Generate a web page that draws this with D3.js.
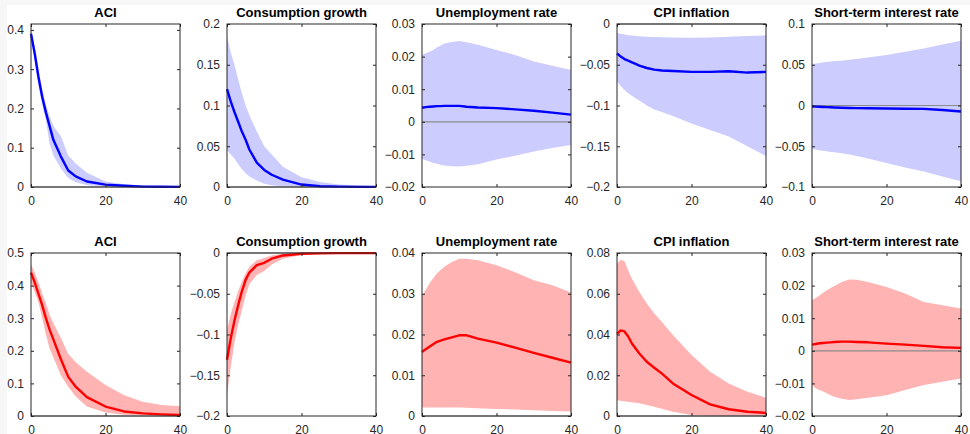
<!DOCTYPE html>
<html>
<head>
<meta charset="utf-8">
<script src="https://cdn.jsdelivr.net/npm/d3@7"></script>
<style>
  html, body { margin: 0; padding: 0; background: #f7f7f7; }
  svg { display: block; }
  .tick text { font-family: "Liberation Sans", Arial, sans-serif; font-size: 12px; fill: #262626; }
  .title { font-family: "Liberation Sans", Arial, sans-serif; font-size: 13px; font-weight: bold; fill: #000; }
</style>
</head>
<body>
<div id="chart"></div>
<script>
var horizons = [0, 1, 2, 3, 4, 5, 6, 8, 10, 12, 15, 20, 25, 30, 35, 40];
var titles = ["ACI", "Consumption growth", "Unemployment rate", "CPI inflation", "Short-term interest rate"];

// row 1 (blue)
var aci_b_mid = [0.39, 0.34, 0.28, 0.23, 0.19, 0.155, 0.12, 0.078, 0.042, 0.027, 0.014, 0.006, 0.003, 0.001, 0.0005, 0.0003];
var aci_b_hi  = [0.40, 0.355, 0.30, 0.25, 0.21, 0.18, 0.155, 0.13, 0.08, 0.06, 0.036, 0.014, 0.007, 0.004, 0.002, 0.001];
var aci_b_lo  = [0.38, 0.32, 0.26, 0.21, 0.17, 0.11, 0.08, 0.048, 0.023, 0.012, 0.005, 0.001, 0, 0, 0, 0];

var cons_b_mid = [0.12, 0.105, 0.092, 0.08, 0.068, 0.058, 0.046, 0.03, 0.021, 0.015, 0.009, 0.003, 0.001, 0.0005, 0.0002, 0.0001];
var cons_b_hi  = [0.185, 0.165, 0.15, 0.132, 0.115, 0.1, 0.088, 0.068, 0.05, 0.04, 0.025, 0.012, 0.006, 0.003, 0.002, 0.001];
var cons_b_lo  = [0.045, 0.04, 0.035, 0.028, 0.022, 0.017, 0.013, 0.008, 0.004, 0.002, 0.001, 0, 0, 0, 0, 0];

var unemp_b_mid = [0.0043, 0.0045, 0.0046, 0.0047, 0.0048, 0.0048, 0.0049, 0.0049, 0.0049, 0.0046, 0.0044, 0.0042, 0.0038, 0.0034, 0.0028, 0.0022];
var unemp_b_hi  = [0.0205, 0.021, 0.0215, 0.022, 0.0228, 0.0234, 0.024, 0.0245, 0.0248, 0.0244, 0.0236, 0.022, 0.0205, 0.0185, 0.0172, 0.0159];
var unemp_b_lo  = [-0.0114, -0.0118, -0.0122, -0.0126, -0.0129, -0.0132, -0.0134, -0.0136, -0.0137, -0.0135, -0.013, -0.0116, -0.0104, -0.0091, -0.008, -0.0071];

var cpi_b_mid = [-0.036, -0.04, -0.043, -0.045, -0.047, -0.049, -0.051, -0.054, -0.056, -0.057, -0.0576, -0.0588, -0.0588, -0.058, -0.0596, -0.0588];
var cpi_b_hi  = [-0.0106, -0.012, -0.013, -0.0137, -0.0142, -0.0147, -0.015, -0.0156, -0.016, -0.0163, -0.0166, -0.017, -0.0165, -0.0155, -0.0148, -0.014];
var cpi_b_lo  = [-0.0706, -0.076, -0.081, -0.085, -0.088, -0.091, -0.094, -0.1, -0.105, -0.108, -0.113, -0.122, -0.13, -0.138, -0.15, -0.162];

var rate_b_mid = [-0.0012, -0.0014, -0.0016, -0.0018, -0.002, -0.0022, -0.0024, -0.0027, -0.003, -0.0032, -0.0034, -0.0037, -0.0039, -0.0042, -0.0055, -0.0073];
var rate_b_hi  = [0.051, 0.0515, 0.052, 0.053, 0.0535, 0.054, 0.0545, 0.055, 0.056, 0.057, 0.059, 0.062, 0.066, 0.07, 0.075, 0.0796];
var rate_b_lo  = [-0.0535, -0.054, -0.055, -0.0555, -0.056, -0.057, -0.0575, -0.0585, -0.06, -0.062, -0.065, -0.0706, -0.076, -0.081, -0.087, -0.093];

// row 2 (red)
var aci_r_mid = [0.44, 0.41, 0.375, 0.34, 0.30, 0.265, 0.235, 0.175, 0.12, 0.09, 0.058, 0.029, 0.014, 0.008, 0.005, 0.003];
var aci_r_hi  = [0.465, 0.44, 0.41, 0.375, 0.345, 0.31, 0.285, 0.24, 0.19, 0.165, 0.136, 0.095, 0.064, 0.044, 0.034, 0.03];
var aci_r_lo  = [0.41, 0.38, 0.35, 0.30, 0.25, 0.207, 0.18, 0.125, 0.09, 0.06, 0.029, 0.011, 0.004, 0.002, 0.0015, 0.001];

var cons_r_mid = [-0.131, -0.105, -0.083, -0.064, -0.047, -0.033, -0.024, -0.015, -0.012, -0.007, -0.003, -0.001, -0.0004, -0.0002, -0.0001, -0.0001];
var cons_r_hi  = [-0.095, -0.075, -0.06, -0.047, -0.035, -0.025, -0.017, -0.009, -0.006, -0.003, -0.001, 0, 0, 0, 0, 0];
var cons_r_lo  = [-0.175, -0.14, -0.11, -0.088, -0.07, -0.052, -0.038, -0.027, -0.022, -0.014, -0.007, -0.002, -0.0008, -0.0003, -0.0002, -0.0001];

var unemp_r_mid = [0.0157, 0.0164, 0.017, 0.0176, 0.0182, 0.0185, 0.0188, 0.0193, 0.0198, 0.0198, 0.019, 0.018, 0.0168, 0.0155, 0.0143, 0.0131];
var unemp_r_hi  = [0.0296, 0.031, 0.0325, 0.0338, 0.035, 0.0358, 0.0366, 0.0378, 0.0386, 0.0386, 0.0382, 0.037, 0.0353, 0.0333, 0.0321, 0.0303];
var unemp_r_lo  = [0.0021, 0.0021, 0.0021, 0.0021, 0.0021, 0.0021, 0.0021, 0.0021, 0.0021, 0.002, 0.0019, 0.0017, 0.0016, 0.0014, 0.0012, 0.0011];

var cpi_r_mid = [0.0403, 0.042, 0.0415, 0.039, 0.0356, 0.0331, 0.0307, 0.0266, 0.0237, 0.0209, 0.016, 0.0103, 0.0057, 0.0033, 0.0021, 0.0015];
var cpi_r_hi  = [0.0748, 0.0767, 0.076, 0.0715, 0.0674, 0.0642, 0.0609, 0.0552, 0.0503, 0.0462, 0.0397, 0.0299, 0.0217, 0.016, 0.0119, 0.009];
var cpi_r_lo  = [0.0077, 0.0075, 0.0073, 0.007, 0.0068, 0.0065, 0.0062, 0.0054, 0.0046, 0.0036, 0.0021, 0.0005, 0, 0, 0, 0];

var rate_r_mid = [0.0019, 0.0021, 0.0023, 0.0024, 0.0025, 0.0026, 0.0027, 0.0028, 0.0028, 0.0027, 0.0026, 0.0022, 0.0019, 0.0015, 0.0011, 0.0009];
var rate_r_hi  = [0.0155, 0.0162, 0.017, 0.0178, 0.0186, 0.0193, 0.0199, 0.0211, 0.0219, 0.0218, 0.0211, 0.0196, 0.0176, 0.015, 0.014, 0.013];
var rate_r_lo  = [-0.0105, -0.0115, -0.012, -0.0125, -0.013, -0.0136, -0.0141, -0.0147, -0.0151, -0.0149, -0.0144, -0.0136, -0.012, -0.0105, -0.0095, -0.0085];

// y limits and ticks per panel
var y_domains = [
  [0, 0.415], [0, 0.2], [-0.02, 0.03], [-0.2, 0], [-0.1, 0.1],
  [0, 0.5], [-0.2, 0], [0, 0.04], [0, 0.08], [-0.02, 0.03]
];
var y_ticks = [
  [0, 0.1, 0.2, 0.3, 0.4], [0, 0.05, 0.1, 0.15, 0.2], [-0.02, -0.01, 0, 0.01, 0.02, 0.03], [-0.2, -0.15, -0.1, -0.05, 0], [-0.1, -0.05, 0, 0.05, 0.1],
  [0, 0.1, 0.2, 0.3, 0.4, 0.5], [-0.2, -0.15, -0.1, -0.05, 0], [0, 0.01, 0.02, 0.03, 0.04], [0, 0.02, 0.04, 0.06, 0.08], [-0.02, -0.01, 0, 0.01, 0.02, 0.03]
];
var x_ticks = [0, 20, 40];

var panels = [
  [aci_b_lo, aci_b_mid, aci_b_hi], [cons_b_lo, cons_b_mid, cons_b_hi], [unemp_b_lo, unemp_b_mid, unemp_b_hi], [cpi_b_lo, cpi_b_mid, cpi_b_hi], [rate_b_lo, rate_b_mid, rate_b_hi],
  [aci_r_lo, aci_r_mid, aci_r_hi], [cons_r_lo, cons_r_mid, cons_r_hi], [unemp_r_lo, unemp_r_mid, unemp_r_hi], [cpi_r_lo, cpi_r_mid, cpi_r_hi], [rate_r_lo, rate_r_mid, rate_r_hi]
];

var width = 970, height = 434;
var col_left = [31, 227, 422, 617, 812];
var row_top = [24, 253];
var box_w = 149, box_h = 163;
var row_colors = [
  {band: "#ccccff", line: "#0000ff"},
  {band: "#ffb3b3", line: "#ff0000"}
];

var svg = d3.select("#chart").append("svg")
  .attr("width", width)
  .attr("height", height);

svg.append("rect")
  .attr("x", 7).attr("y", 5)
  .attr("width", width - 7).attr("height", height - 5)
  .attr("fill", "#ffffff");

var x = d3.scaleLinear().domain([0, 40]).range([0, box_w]);

panels.forEach(function (p, k) {
  var row = Math.floor(k / 5), col = k % 5;
  var colors = row_colors[row];
  var y = d3.scaleLinear().domain(y_domains[k]).range([box_h, 0]);

  var g = svg.append("g")
    .attr("transform", "translate(" + col_left[col] + "," + row_top[row] + ")");

  var band = d3.area()
    .x(function (d, i) { return x(horizons[i]); })
    .y0(function (d, i) { return y(p[0][i]); })
    .y1(function (d, i) { return y(p[2][i]); });

  var line = d3.line()
    .x(function (d, i) { return x(horizons[i]); })
    .y(function (d) { return y(d); });

  g.append("path")
    .datum(horizons)
    .attr("d", band)
    .attr("fill", colors.band);

  // zero line
  g.append("line")
    .attr("x1", 0).attr("x2", box_w)
    .attr("y1", y(0)).attr("y2", y(0))
    .attr("stroke", "#8c8c8c")
    .attr("stroke-width", 1.2);

  g.append("path")
    .datum(p[1])
    .attr("d", line)
    .attr("fill", "none")
    .attr("stroke", colors.line)
    .attr("stroke-width", 2.4)
    .attr("stroke-linejoin", "round");

  // axes, ticks inside like matlab
  g.append("g")
    .call(d3.axisLeft(y).tickValues(y_ticks[k]).tickSize(-3).tickPadding(7).tickFormat(d3.format("")));
  g.append("g")
    .attr("transform", "translate(0," + box_h + ")")
    .call(d3.axisBottom(x).tickValues(x_ticks).tickSize(-3).tickPadding(9).tickFormat(d3.format("")));
  g.append("g")
    .attr("transform", "translate(" + box_w + ",0)")
    .call(d3.axisRight(y).tickValues(y_ticks[k]).tickSize(-3).tickFormat(""));
  g.append("g")
    .call(d3.axisTop(x).tickValues(x_ticks).tickSize(-3).tickFormat(""));

  g.selectAll(".domain").remove();
  g.selectAll(".tick line").attr("stroke", "#262626");

  g.append("rect")
    .attr("width", box_w).attr("height", box_h)
    .attr("fill", "none")
    .attr("stroke", "#262626")
    .attr("stroke-width", 1);

  g.append("text")
    .attr("class", "title")
    .attr("x", box_w / 2)
    .attr("y", -7)
    .attr("text-anchor", "middle")
    .text(titles[col]);
});
</script>
</body>
</html>
